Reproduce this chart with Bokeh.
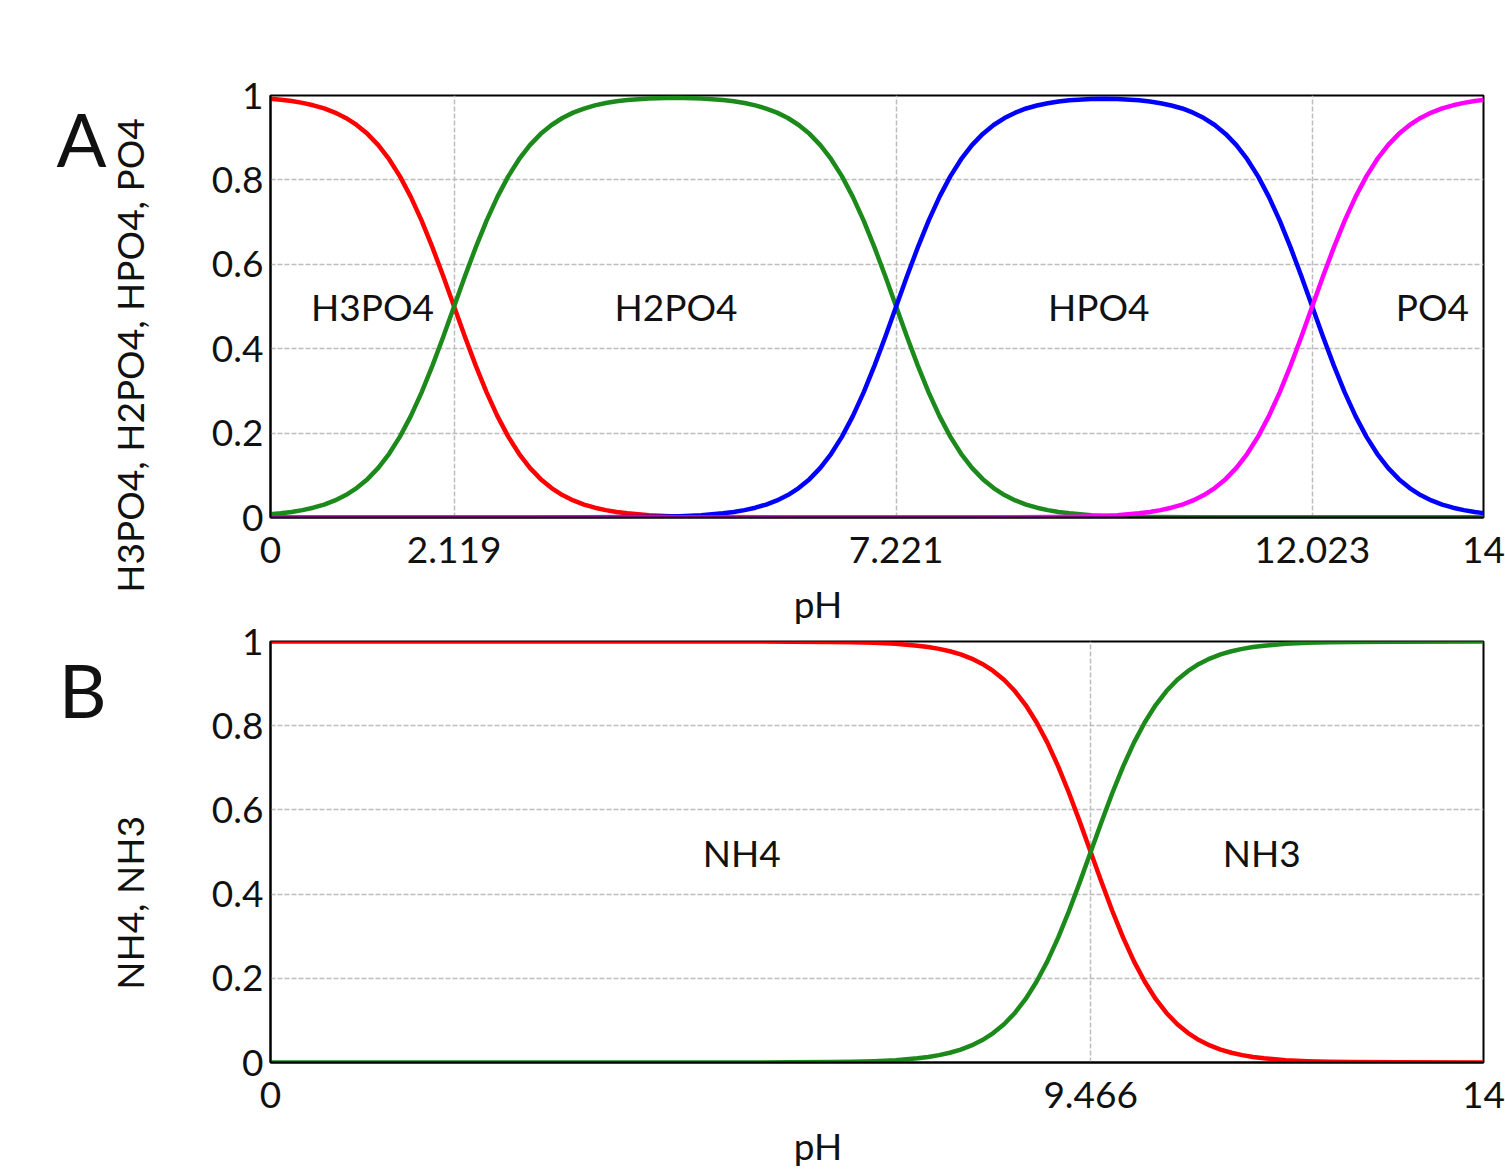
import math
from bokeh.plotting import figure
from bokeh.layouts import column
from bokeh.models import Range1d, FixedTicker, CustomJSTickFormatter, Label, LinearAxis
from bokeh.embed import file_html
from bokeh.resources import INLINE

# ---------------- data ----------------
# Panel A: phosphoric acid speciation
ph_h3po4 = [0, 0.119, 0.244, 0.369, 0.494, 0.619, 0.744, 0.869, 0.994, 1.119, 1.244, 1.369, 1.494, 1.619,
            1.744, 1.869, 1.994, 2.119, 2.244, 2.369, 2.494, 2.619, 2.744, 2.869, 2.994, 3.119, 3.244, 3.369,
            3.494, 3.619, 3.744, 3.869, 3.994, 4.119, 4.369, 4.619, 4.869, 5.119, 6.0, 14.0]
frac_h3po4 = [0.9925, 0.9901, 0.9868, 0.9825, 0.9768, 0.9694, 0.9595, 0.9468, 0.9302, 0.9091, 0.8823, 0.8490,
              0.8083, 0.7598, 0.7034, 0.6401, 0.5715, 0.5000, 0.4285, 0.3599, 0.2966, 0.2403, 0.1917, 0.1510,
              0.1177, 0.0909, 0.0698, 0.0532, 0.0405, 0.0307, 0.0232, 0.0175, 0.0132, 0.0099, 0.0056, 0.0032,
              0.0018, 0.0010, 0.0001, 0.0]

ph_h2po4 = [0, 0.119, 0.244, 0.369, 0.494, 0.619, 0.744, 0.869, 0.994, 1.119, 1.244, 1.369, 1.494, 1.619,
            1.744, 1.869, 1.994, 2.119, 2.244, 2.369, 2.494, 2.619, 2.744, 2.869, 2.994, 3.119, 3.244, 3.369,
            3.494, 3.619, 3.744, 3.869, 3.994, 4.119, 4.369, 4.670, 4.971, 5.221, 5.346, 5.471, 5.596, 5.721,
            5.846, 5.971, 6.096, 6.221, 6.346, 6.471, 6.596, 6.721, 6.846, 6.971, 7.096, 7.221, 7.346, 7.471,
            7.596, 7.721, 7.846, 7.971, 8.096, 8.221, 8.346, 8.471, 8.596, 8.721, 8.846, 8.971, 9.096, 9.221,
            9.471, 9.721, 9.971, 10.221, 11.0, 14.0]
frac_h2po4 = [0.0075, 0.0099, 0.0132, 0.0175, 0.0232, 0.0306, 0.0405, 0.0532, 0.0698, 0.0909, 0.1177, 0.1510,
              0.1917, 0.2403, 0.2966, 0.3599, 0.4285, 0.5000, 0.5715, 0.6401, 0.7034, 0.7597, 0.8083, 0.8490,
              0.8823, 0.9091, 0.9301, 0.9467, 0.9594, 0.9691, 0.9765, 0.9821, 0.9863, 0.9893, 0.9930, 0.9944,
              0.9930, 0.9893, 0.9863, 0.9821, 0.9765, 0.9691, 0.9594, 0.9467, 0.9301, 0.9091, 0.8823, 0.8490,
              0.8083, 0.7598, 0.7034, 0.6401, 0.5715, 0.5000, 0.4285, 0.3599, 0.2966, 0.2403, 0.1917, 0.1510,
              0.1177, 0.0909, 0.0698, 0.0532, 0.0405, 0.0307, 0.0232, 0.0175, 0.0132, 0.0099, 0.0056, 0.0032,
              0.0018, 0.0010, 0.0002, 0.0]

ph_hpo4 = [0, 3.0, 4.221, 4.471, 4.721, 4.971, 5.221, 5.346, 5.471, 5.596, 5.721, 5.846, 5.971, 6.096, 6.221,
           6.346, 6.471, 6.596, 6.721, 6.846, 6.971, 7.096, 7.221, 7.346, 7.471, 7.596, 7.721, 7.846, 7.971,
           8.096, 8.221, 8.346, 8.471, 8.596, 8.721, 8.846, 8.971, 9.096, 9.221, 9.471, 9.622, 9.773, 10.023,
           10.148, 10.273, 10.398, 10.523, 10.648, 10.773, 10.898, 11.023, 11.148, 11.273, 11.398, 11.523,
           11.648, 11.773, 11.898, 12.023, 12.148, 12.273, 12.398, 12.523, 12.648, 12.773, 12.898, 13.023,
           13.148, 13.273, 13.398, 13.523, 13.648, 13.773, 13.898, 14.0]
frac_hpo4 = [0.0, 0.0001, 0.0010, 0.0018, 0.0032, 0.0056, 0.0099, 0.0132, 0.0175, 0.0232, 0.0307, 0.0405,
             0.0532, 0.0698, 0.0909, 0.1177, 0.1510, 0.1917, 0.2403, 0.2966, 0.3599, 0.4285, 0.5000, 0.5715,
             0.6401, 0.7034, 0.7597, 0.8083, 0.8490, 0.8823, 0.9090, 0.9301, 0.9465, 0.9592, 0.9693, 0.9762,
             0.9818, 0.9857, 0.9886, 0.9916, 0.9921, 0.9916, 0.9886, 0.9857, 0.9818, 0.9762, 0.9693, 0.9592,
             0.9465, 0.9301, 0.9090, 0.8823, 0.8490, 0.8083, 0.7597, 0.7034, 0.6401, 0.5715, 0.5000, 0.4285,
             0.3599, 0.2966, 0.2403, 0.1917, 0.1510, 0.1177, 0.0909, 0.0698, 0.0532, 0.0405, 0.0307, 0.0232,
             0.0175, 0.0132, 0.0104]

ph_po4 = [0, 8.0, 9.023, 9.273, 9.523, 9.773, 10.023, 10.148, 10.273, 10.398, 10.523, 10.648, 10.773, 10.898,
          11.023, 11.148, 11.273, 11.398, 11.523, 11.648, 11.773, 11.898, 12.023, 12.148, 12.273, 12.398,
          12.523, 12.648, 12.773, 12.898, 13.023, 13.148, 13.273, 13.398, 13.523, 13.648, 13.773, 13.898, 14.0]
frac_po4 = [0.0, 0.0001, 0.0010, 0.0018, 0.0032, 0.0056, 0.0099, 0.0132, 0.0175, 0.0232, 0.0307, 0.0405,
            0.0532, 0.0698, 0.0909, 0.1177, 0.1510, 0.1917, 0.2403, 0.2966, 0.3599, 0.4285, 0.5000, 0.5715,
            0.6401, 0.7034, 0.7597, 0.8083, 0.8490, 0.8823, 0.9091, 0.9302, 0.9468, 0.9595, 0.9693, 0.9768,
            0.9825, 0.9868, 0.9896]

# Panel B: ammonia speciation
ph_nh = [0, 6.0, 6.466, 6.716, 6.966, 7.216, 7.466, 7.591, 7.716, 7.841, 7.966, 8.091, 8.216, 8.341, 8.466,
         8.591, 8.716, 8.841, 8.966, 9.091, 9.216, 9.341, 9.466, 9.591, 9.716, 9.841, 9.966, 10.091, 10.216,
         10.341, 10.466, 10.591, 10.716, 10.841, 10.966, 11.091, 11.216, 11.341, 11.466, 11.716, 11.966,
         12.216, 12.466, 13.0, 14.0]
frac_nh4 = [1.0, 0.9997, 0.9990, 0.9982, 0.9968, 0.9944, 0.9901, 0.9868, 0.9825, 0.9768, 0.9694, 0.9595,
            0.9468, 0.9302, 0.9091, 0.8823, 0.8490, 0.8083, 0.7598, 0.7034, 0.6401, 0.5715, 0.5000, 0.4285,
            0.3599, 0.2966, 0.2403, 0.1917, 0.1510, 0.1177, 0.0909, 0.0698, 0.0532, 0.0405, 0.0307, 0.0232,
            0.0175, 0.0132, 0.0099, 0.0056, 0.0032, 0.0018, 0.0010, 0.0003, 0.0]
frac_nh3 = [0.0, 0.0003, 0.0010, 0.0018, 0.0032, 0.0056, 0.0099, 0.0132, 0.0175, 0.0232, 0.0306, 0.0405,
            0.0532, 0.0698, 0.0909, 0.1177, 0.1510, 0.1917, 0.2402, 0.2966, 0.3599, 0.4285, 0.5000, 0.5715,
            0.6401, 0.7034, 0.7597, 0.8083, 0.8490, 0.8823, 0.9091, 0.9302, 0.9468, 0.9595, 0.9693, 0.9768,
            0.9825, 0.9868, 0.9901, 0.9944, 0.9968, 0.9982, 0.9990, 0.9997, 1.0]

# ticks
xticks_a = [0, 2.119, 7.221, 12.023, 14]
xlabels_a = ["0", "2.119", "7.221", "12.023", "14"]
xticks_b = [0, 9.466, 14]
xlabels_b = ["0", "9.466", "14"]
yticks = [0, 0.2, 0.4, 0.6, 0.8, 1]
ylabels = ["0", "0.2", "0.4", "0.6", "0.8", "1"]

# species names (text annotations)
species_a = ["H3PO4", "H2PO4", "HPO4", "PO4"]
species_a_x = [1.177, 4.68, 9.56, 13.41]
species_b = ["NH4", "NH3"]
species_b_x = [5.44, 11.44]

# ---------------- styling ----------------
FONT = "Lato"
FS = "37px"
TXT = "#111111"
RED = "#ff0000"
GREEN = "#1b8a1b"
BLUE = "#0000ff"
MAGENTA = "#ff00ff"
LW = 4.5


def fmt(tvals, tlabs):
    return CustomJSTickFormatter(args=dict(tv=tvals, tl=tlabs),
                                 code="""
        for (let i = 0; i < tv.length; i++) {
            if (Math.abs(tv[i] - tick) < 1e-9) return tl[i];
        }
        return String(tick);
    """)


def style_axis(ax, size=FS):
    ax.major_tick_in = 0
    ax.major_tick_out = 0
    ax.minor_tick_line_color = None
    ax.major_label_text_font = FONT
    ax.major_label_text_font_size = size
    ax.major_label_text_color = TXT


def text_axis(p, side, pos, txt, standoff, size=FS, orientation="horizontal"):
    """An axis used only to place one caption at a data position outside the frame."""
    ax = LinearAxis(ticker=FixedTicker(ticks=[pos]), formatter=fmt([pos], [txt]))
    style_axis(ax, size)
    ax.axis_line_color = None
    ax.major_tick_line_color = None
    ax.major_label_standoff = standoff
    ax.major_label_orientation = orientation
    p.add_layout(ax, side)
    return ax


def make_fig(height, top, bottom, xt, xl):
    p = figure(width=1505, height=height, x_range=Range1d(0, 14), y_range=Range1d(0, 1),
               output_backend="svg", toolbar_location=None,
               min_border_left=270, min_border_right=22, min_border_top=top, min_border_bottom=bottom)
    p.background_fill_color = "white"
    p.border_fill_color = None
    p.outline_line_color = "black"
    p.outline_line_width = 2
    p.outline_line_alpha = 1.0
    p.xaxis.ticker = FixedTicker(ticks=xt)
    p.xaxis.formatter = fmt(xt, xl)
    p.yaxis.ticker = FixedTicker(ticks=yticks)
    p.yaxis.formatter = fmt(yticks, ylabels)
    for ax in (p.xaxis[0], p.yaxis[0]):
        style_axis(ax)
        ax.axis_line_color = "black"
        ax.axis_line_width = 2
    p.xaxis.major_label_standoff = 19
    p.yaxis.major_label_standoff = 7
    p.xgrid.ticker = FixedTicker(ticks=xt)
    p.ygrid.ticker = FixedTicker(ticks=yticks)
    for g in (p.xgrid[0], p.ygrid[0]):
        g.grid_line_color = "#bdbdbd"
        g.grid_line_dash = "5 2"
        g.grid_line_width = 1.5
    return p


def add_text(p, txt, x, y):
    p.add_layout(Label(x=x, y=y, text=txt, text_font=FONT, text_font_size=FS, text_color=TXT,
                       text_align="center", text_baseline="middle"))


# ---------------- panel A ----------------
pa = make_fig(642, 95, 125, xticks_a, xlabels_a)
pa.line(ph_h3po4, frac_h3po4, line_color=RED, line_width=LW, line_join="round")
pa.line(ph_h2po4, frac_h2po4, line_color=GREEN, line_width=LW, line_join="round")
pa.line(ph_hpo4, frac_hpo4, line_color=BLUE, line_width=LW, line_join="round")
pa.line(ph_po4, frac_po4, line_color=MAGENTA, line_width=LW, line_join="round")
for name, sx in zip(species_a, species_a_x):
    add_text(pa, name, sx, 0.5)
text_axis(pa, "left", 0.384, "H3PO4, H2PO4, HPO4, PO4", 56, orientation="vertical")
text_axis(pa, "left", 0.898, "A", -2, size="74px")
text_axis(pa, "below", 6.319, "pH", 15)

# ---------------- panel B ----------------
pb = make_fig(568, 39, 108, xticks_b, xlabels_b)
pb.margin = (-40, 0, 0, 0)
pb.line(ph_nh, frac_nh4, line_color=RED, line_width=LW, line_join="round")
pb.line(ph_nh, frac_nh3, line_color=GREEN, line_width=LW, line_join="round")
for name, sx in zip(species_b, species_b_x):
    add_text(pb, name, sx, 0.5)
text_axis(pb, "left", 0.379, "NH4, NH3", 56, orientation="vertical")
text_axis(pb, "left", 0.886, "B", -2, size="74px")
text_axis(pb, "below", 6.319, "pH", 12)

layout = column(pa, pb, spacing=0)
open("out.html", "w").write(file_html(layout, INLINE))
